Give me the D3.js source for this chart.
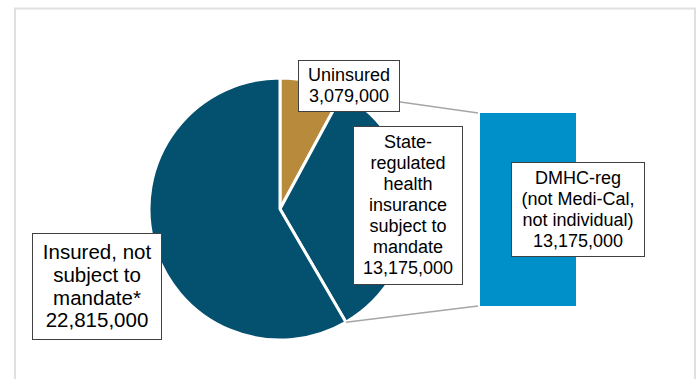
<!DOCTYPE html>
<html>
<head>
<meta charset="utf-8">
<script src="https://cdn.jsdelivr.net/npm/d3@7"></script>
<style>
  body { margin: 0; background: #fff; }
  svg { display: block; font-family: "Liberation Sans", Arial, sans-serif; }
</style>
</head>
<body>
<svg id="chart" width="699" height="379"></svg>
<script>
// DATA
const pieCategories = ['Uninsured', 'State-regulated health insurance subject to mandate', 'Insured, not subject to mandate*']
const pieValues     = [3079000, 13175000, 22815000]
const pieColors     = ['#B88A3B', '#03506F', '#03506F']

const barCategories = ['DMHC-reg (not Medi-Cal, not individual)']
const barValues     = [13175000]
const barColor      = '#0090C9'

// label text lines + box placement (layout only)
const pieLabelLines = [
    ['Uninsured', '3,079,000'],
    ['State-', 'regulated', 'health', 'insurance', 'subject to', 'mandate', '13,175,000'],
    ['Insured, not', 'subject to', 'mandate*', '22,815,000']
]
const barLabelLines = [['DMHC-reg', '(not Medi-Cal,', 'not individual)', '13,175,000']]

const layout = {
    cx: 280, cy: 209, r: 131,
    bar: { x0: 480, x1: 576, y0: 113, y1: 306 },
    pieLabels: [
        { x: 298, y: 60,  w: 101, h: 51,  size: 18,   lh: 21 },
        { x: 353, y: 126, w: 109, h: 158, size: 18,   lh: 21 },
        { x: 32,  y: 233, w: 129, h: 106, size: 20.5, lh: 22.7 }
    ],
    barLabels: [
        { x: 511, y: 162, w: 133, h: 94, size: 18, lh: 21 }
    ]
}

const svg = d3.select('#chart')

// outer frame
svg.append('rect')
    .attr('x', 15).attr('y', 8.5)
    .attr('width', 680).attr('height', 400)
    .attr('fill', 'none')
    .attr('stroke', '#E2DFDF')
    .attr('stroke-width', 2)

// 1. Pie
const pie = d3.pie().sort(null).startAngle(0).endAngle(2 * Math.PI)
const arcs = pie(pieValues)
const arc = d3.arc().innerRadius(0).outerRadius(layout.r)

const pieG = svg.append('g').attr('transform', `translate(${layout.cx},${layout.cy})`)
pieG.selectAll('path')
    .data(arcs)
    .join('path')
    .attr('d', arc)
    .attr('fill', (d, i) => pieColors[i])
    .attr('stroke', '#fff')
    .attr('stroke-width', 3)
    .attr('stroke-linejoin', 'round')

// 2. Bar (breakout of the state-regulated slice)
const y = d3.scaleLinear().domain([0, d3.sum(barValues)]).range([layout.bar.y1, layout.bar.y0])
const x = d3.scaleBand().domain(barCategories).range([layout.bar.x0, layout.bar.x1]).padding(0)

let stackBase = 0
const barStack = barValues.map(v => { const s = { y0: stackBase, y1: stackBase + v }; stackBase += v; return s })

svg.selectAll('rect.bar')
    .data(barStack)
    .join('rect')
    .attr('class', 'bar')
    .attr('x', (d, i) => x(barCategories[i]))
    .attr('width', x.bandwidth())
    .attr('y', d => y(d.y1))
    .attr('height', d => y(d.y0) - y(d.y1))
    .attr('fill', barColor)

// 3. Connector lines from split slice edges to bar corners
const split = arcs[1]
const edgePt = a => [layout.cx + layout.r * Math.sin(a), layout.cy - layout.r * Math.cos(a)]
const pStart = edgePt(split.startAngle), pEnd = edgePt(split.endAngle)
const connectors = [
    [pStart, [x(barCategories[0]) - 2, y(d3.sum(barValues))]],
    [pEnd,   [x(barCategories[0]) - 2, y(0)]]
]
svg.selectAll('line.connector')
    .data(connectors)
    .join('line')
    .attr('class', 'connector')
    .attr('x1', d => d[0][0]).attr('y1', d => d[0][1])
    .attr('x2', d => d[1][0]).attr('y2', d => d[1][1])
    .attr('stroke', '#A6A6A6')
    .attr('stroke-width', 1.5)

// 4. Labels
function drawLabel(box, lines) {
    const g = svg.append('g').attr('class', 'label')
    g.append('rect')
        .attr('x', box.x + 0.5).attr('y', box.y + 0.5)
        .attr('width', box.w).attr('height', box.h)
        .attr('fill', '#fff')
        .attr('stroke', '#404040')
        .attr('stroke-width', 1)
    const midY = box.y + box.h / 2
    const top = midY - (lines.length - 1) * box.lh / 2
    g.append('text')
        .attr('text-anchor', 'middle')
        .attr('font-size', box.size)
        .attr('fill', '#000')
        .selectAll('tspan')
        .data(lines)
        .join('tspan')
        .attr('x', box.x + box.w / 2 + 0.5)
        .attr('y', (d, i) => top + i * box.lh)
        .attr('dy', '0.35em')
        .text(d => d)
}

pieLabelLines.forEach((lines, i) => drawLabel(layout.pieLabels[i], lines))
barLabelLines.forEach((lines, i) => drawLabel(layout.barLabels[i], lines))
</script>
</body>
</html>
